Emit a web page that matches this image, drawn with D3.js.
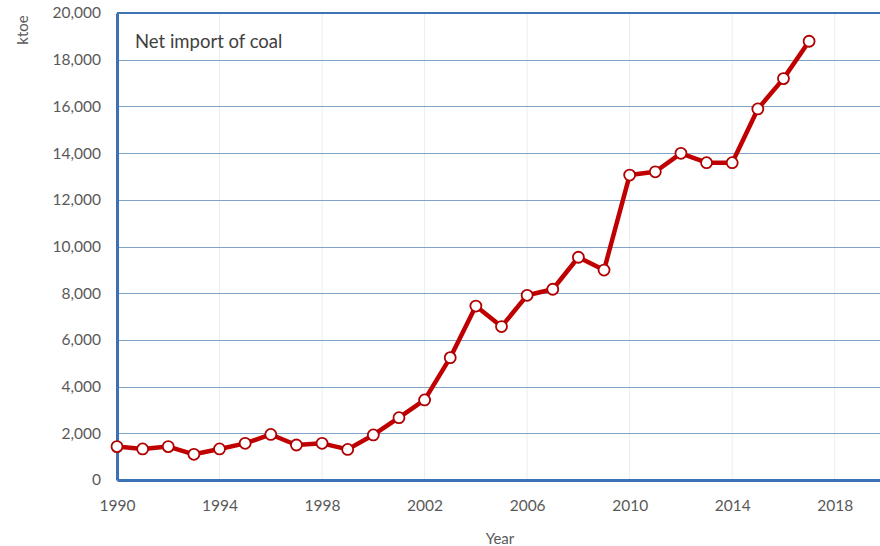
<!DOCTYPE html>
<html>
<head>
<meta charset="utf-8">
<script src="https://cdn.jsdelivr.net/npm/d3@7"></script>
<style>
  body { margin: 0; background: #fff; }
  svg { display: block; font-family: Lato, "Open Sans", sans-serif; }
</style>
</head>
<body>
<div id="chart"></div>
<script>
const years = [1990, 1991, 1992, 1993, 1994, 1995, 1996, 1997, 1998, 1999,
  2000, 2001, 2002, 2003, 2004, 2005, 2006, 2007, 2008, 2009,
  2010, 2011, 2012, 2013, 2014, 2015, 2016, 2017];
const netImport = [1430, 1330, 1430, 1100, 1330, 1570, 1950, 1500, 1570, 1310,
  1930, 2670, 3430, 5240, 7450, 6570, 7910, 8170, 9540, 8990,
  13060, 13200, 13990, 13590, 13590, 15890, 17190, 18790];
const xTicks = [1990, 1994, 1998, 2002, 2006, 2010, 2014, 2018];
const yTicks = [0, 2000, 4000, 6000, 8000, 10000, 12000, 14000, 16000, 18000, 20000];

const data = years.map((y, i) => ({ year: y, value: netImport[i] }));

const margin = { top: 13, right: -6, bottom: 66, left: 117 };
const W = 880, H = 546;
const width = W - margin.left - margin.right;
const height = H - margin.top - margin.bottom;

const svg = d3.select("#chart")
  .append("svg")
  .attr("width", W)
  .attr("height", H);

const g = svg.append("g")
  .attr("transform", `translate(${margin.left}, ${margin.top})`);

const x = d3.scaleLinear().domain([1990, 2020]).range([0, width]);
const y = d3.scaleLinear().domain([0, 20000]).range([height, 0]);

// vertical grid (faint)
g.append("g")
  .selectAll("line")
  .data(xTicks.slice(1))
  .join("line")
  .attr("x1", d => x(d)).attr("x2", d => x(d))
  .attr("y1", 0).attr("y2", height)
  .attr("stroke", "#e9edf2")
  .attr("stroke-width", 1);

// horizontal grid
g.append("g")
  .selectAll("line")
  .data(yTicks.slice(1, -1))
  .join("line")
  .attr("x1", 0).attr("x2", width)
  .attr("y1", d => Math.round(y(d)) + 0.5).attr("y2", d => Math.round(y(d)) + 0.5)
  .attr("stroke", "#7fa3c6")
  .attr("stroke-width", 1.2);

// frame: top border
g.append("line")
  .attr("x1", 0).attr("x2", width)
  .attr("y1", 0).attr("y2", 0)
  .attr("stroke", "#3f74b3")
  .attr("stroke-width", 2);

// y axis
g.append("g")
  .call(d3.axisLeft(y).tickValues(yTicks).tickSize(0).tickPadding(16).tickFormat(d3.format(",")))
  .call(s => s.select(".domain").attr("stroke", "#3a72b5").attr("stroke-width", 3))
  .call(s => s.selectAll("text").attr("fill", "#595959").style("font-size", "15.5px").style("font-family", "Lato, 'Open Sans', sans-serif"));

// x axis
g.append("g")
  .attr("transform", `translate(0, ${height})`)
  .call(d3.axisBottom(x).tickValues(xTicks).tickSize(0).tickPadding(20).tickFormat(d3.format("d")))
  .call(s => s.select(".domain").attr("stroke", "#3a72b5").attr("stroke-width", 3))
  .call(s => s.selectAll("text").attr("fill", "#595959").style("font-size", "15.5px").style("font-family", "Lato, 'Open Sans', sans-serif"));

// axis titles
svg.append("text")
  .attr("x", 500)
  .attr("y", 544)
  .attr("text-anchor", "middle")
  .attr("fill", "#595959")
  .style("font-size", "15px")
  .text("Year");

svg.append("text")
  .attr("transform", "translate(28, 30) rotate(-90)")
  .attr("text-anchor", "middle")
  .attr("fill", "#595959")
  .style("font-size", "15px")
  .text("ktoe");

// chart title inside plot
g.append("text")
  .attr("x", 18)
  .attr("y", 35)
  .attr("fill", "#404040")
  .style("font-size", "18.5px")
  .text("Net import of coal");

// line
const line = d3.line()
  .x(d => x(d.year))
  .y(d => y(d.value));

g.append("path")
  .datum(data)
  .attr("fill", "none")
  .attr("stroke", "#c00000")
  .attr("stroke-width", 4.5)
  .attr("stroke-linejoin", "round")
  .attr("d", line);

g.selectAll("circle")
  .data(data)
  .join("circle")
  .attr("cx", d => x(d.year))
  .attr("cy", d => y(d.value))
  .attr("r", 5.5)
  .attr("fill", "#fff")
  .attr("stroke", "#b00000")
  .attr("stroke-width", 1.8);
</script>
</body>
</html>
